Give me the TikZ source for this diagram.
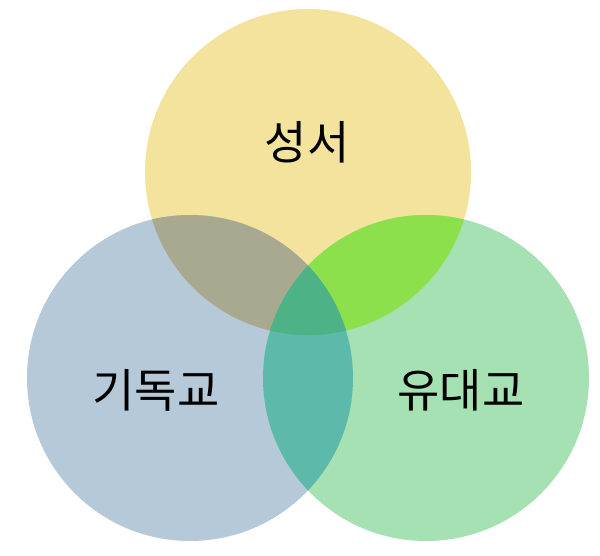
\documentclass[tikz,border=0pt]{standalone}
\usepackage{fontspec}
\newfontfamily\kr{Noto Sans CJK KR}
\definecolor{cy}{HTML}{F4E39C}
\definecolor{cb}{HTML}{B6C9D9}
\definecolor{cg}{HTML}{A5E1B2}
\definecolor{cyb}{HTML}{A8A98F}
\definecolor{cyg}{HTML}{8CE04C}
\definecolor{cbg}{HTML}{5DB9AA}
\definecolor{cybg}{HTML}{4EB287}
\tikzset{lbl/.style={font=\kr\fontsize{46}{50}\selectfont, text=black, inner sep=0pt}}
\begin{document}
\begin{tikzpicture}[x=1pt,y=-1pt]
\useasboundingbox (0,0) rectangle (600,555);
\def\rr{163}
\coordinate (ct) at (308,172);
\coordinate (cl) at (190,378);
\coordinate (cr) at (426,378);
\fill[cy] (ct) circle (\rr);
\fill[cb] (cl) circle (\rr);
\fill[cg] (cr) circle (\rr);
\begin{scope}
  \clip (ct) circle (\rr);
  \fill[cyb] (cl) circle (\rr);
  \fill[cyg] (cr) circle (\rr);
\end{scope}
\begin{scope}
  \clip (cl) circle (\rr);
  \fill[cbg] (cr) circle (\rr);
\end{scope}
\begin{scope}
  \clip (ct) circle (\rr);
  \clip (cl) circle (\rr);
  \fill[cybg] (cr) circle (\rr);
\end{scope}
\node[lbl] (t) at (307,142) {성서};
\node[lbl] (l) at (156,390) {기독교};
\node[lbl] (r) at (461,390) {유대교};
\end{tikzpicture}
\end{document}
